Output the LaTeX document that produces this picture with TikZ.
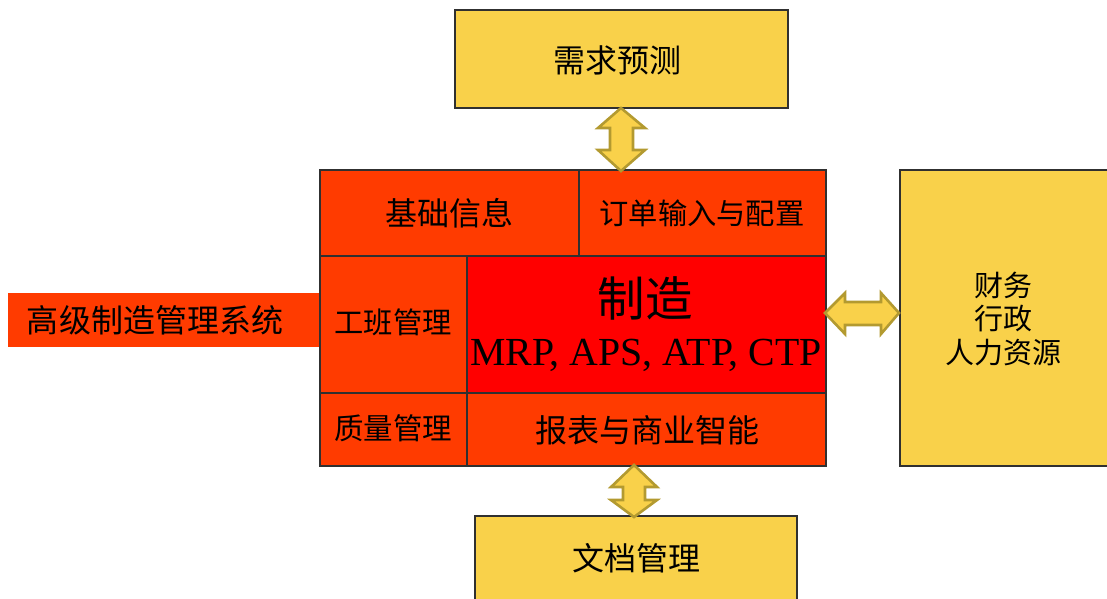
\documentclass[tikz,border=0pt]{standalone}
\usepackage{fontspec}
\setmainfont{Liberation Serif}
\newfontfamily\cjk{Noto Sans CJK SC}
\definecolor{boxyellow}{HTML}{F9D14A}
\definecolor{arrowedge}{HTML}{B39A30}
\definecolor{orangered}{HTML}{FF3B00}
\definecolor{purered}{HTML}{FF0000}
\definecolor{edgegray}{HTML}{303030}
\tikzset{
  ybox/.style={draw=edgegray, line width=1.4pt, fill=boxyellow},
  rbox/.style={draw=edgegray, line width=1.2pt, fill=orangered},
  redbox/.style={draw=edgegray, line width=1.2pt, fill=purered},
  lbl/.style={font=\cjk\fontsize{32}{36}\selectfont, text=black, align=center, inner sep=0pt},
  dblarrow/.style={fill=boxyellow, draw=arrowedge, line width=2.6pt, line join=miter},
}
\begin{document}
\begin{tikzpicture}[x=1pt,y=-1pt]
\useasboundingbox (0,0) rectangle (1107,598);
% yellow boxes
\draw[ybox] (455,10) rectangle (788,108);
\node[lbl] (demand) at (617,60) {需求预测};
\draw[ybox] (900,170) rectangle (1112,466);
\node[lbl, font=\cjk\fontsize{29}{33.5}\selectfont] (finance) at (1003,319) {财务\\行政\\人力资源};
\draw[ybox] (475,516) rectangle (797,605);
\node[lbl] (docs) at (636,558) {文档管理};
% banner
\fill[orangered] (8,293) rectangle (320,347);
\node[lbl] (banner) at (155,320) {高级制造管理系统};
% red block
\draw[rbox] (320,170) rectangle (579,256);
\draw[rbox] (579,170) rectangle (826,256);
\draw[rbox] (320,256) rectangle (467,393);
\draw[redbox] (467,256) rectangle (826,393);
\draw[rbox] (320,393) rectangle (467,466);
\draw[rbox] (467,393) rectangle (826,466);
\node[lbl] (basic) at (449,213) {基础信息};
\node[lbl, font=\cjk\fontsize{29.3}{34}\selectfont] (order) at (702,213) {订单输入与配置};
\node[lbl, font=\cjk\fontsize{29.3}{34}\selectfont] (shift) at (393,322) {工班管理};
\node[lbl, font=\cjk\fontsize{47.5}{52}\selectfont] (mfg) at (645,298) {制造};
\node[inner sep=0pt, font=\fontsize{39.8}{44}\selectfont] (mrp) at (646,355) {MRP, APS, ATP, CTP};
\node[lbl, font=\cjk\fontsize{29.5}{34}\selectfont] (quality) at (393,428) {质量管理};
\node[lbl] (report) at (647,430) {报表与商业智能};
% top double arrow
\draw[dblarrow] (621,108) -- (645,128) -- (633,128) -- (633,150) -- (645,150) -- (621,171)
  -- (598,150) -- (610,150) -- (610,128) -- (598,128) -- cycle;
% right double arrow
\draw[dblarrow] (825,313) -- (845,293) -- (845,302) -- (881,302) -- (881,293) -- (899,313)
  -- (881,334) -- (881,325) -- (845,325) -- (845,334) -- cycle;
% bottom double arrow
\draw[dblarrow] (634,465) -- (657,487) -- (645,487) -- (645,500) -- (657,500) -- (634,517)
  -- (611,500) -- (623,500) -- (623,487) -- (611,487) -- cycle;
\end{tikzpicture}
\end{document}
